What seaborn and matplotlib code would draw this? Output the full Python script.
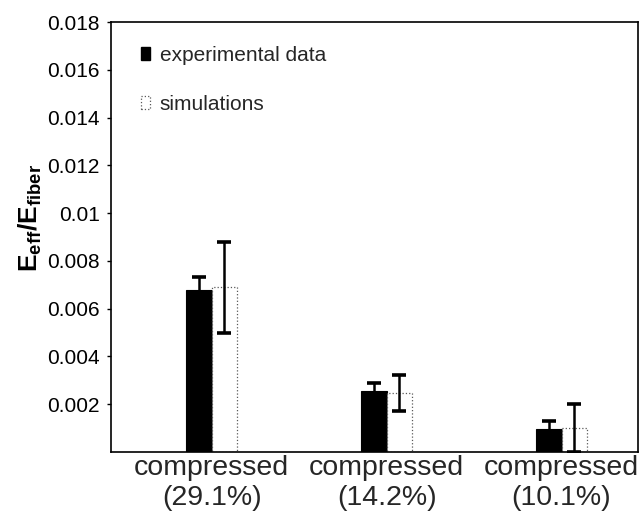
import numpy as np
import pandas as pd
import matplotlib
matplotlib.use("Agg")
import matplotlib.pyplot as plt
from matplotlib.patches import Patch
import seaborn as sns

# ---- data ----
categories = ["compressed\n(29.1%)", "compressed\n(14.2%)", "compressed\n(10.1%)"]
series = ["experimental data", "simulations"]
exp_values = [0.00678, 0.00257, 0.00095]
exp_errors = [0.00056, 0.00032, 0.00035]
sim_values = [0.00689, 0.00246, 0.00102]
sim_errors = [0.00190, 0.00076, 0.00101]
ytick_values = [0.002, 0.004, 0.006, 0.008, 0.010, 0.012, 0.014, 0.016, 0.018]
ytick_labels = ["0.002", "0.004", "0.006", "0.008", "0.01", "0.012", "0.014", "0.016", "0.018"]

df = pd.DataFrame({
    "category": categories * 2,
    "series": [series[0]] * 3 + [series[1]] * 3,
    "value": exp_values + sim_values,
    "err": exp_errors + sim_errors,
})

sns.set_theme(style="white")
plt.rcParams["font.family"] = ["Liberation Sans", "DejaVu Sans"]
plt.rcParams["mathtext.fontset"] = "custom"
plt.rcParams["mathtext.rm"] = "Liberation Sans:bold"
plt.rcParams["mathtext.it"] = "Liberation Sans:bold"
plt.rcParams["mathtext.bf"] = "Liberation Sans:bold"

fig = plt.figure(figsize=(6.43, 5.21), dpi=100)
ax = fig.add_axes([111 / 643, 1 - 452 / 521, 527 / 643, 430 / 521])

sns.barplot(data=df, x="category", y="value", hue="series", order=categories,
            hue_order=series, palette={series[0]: "black", series[1]: "white"},
            errorbar=None, width=0.29, gap=0, ax=ax, legend=False,
            saturation=1)

# style bars and add error bars from the bar geometry
patches = [p for p in ax.patches]
n = len(categories)
for i, p in enumerate(patches[:2 * n]):
    s = i // n
    c = i % n
    if s == 0:
        p.set_edgecolor("black")
        p.set_linewidth(0.8)
        val, err = exp_values[c], exp_errors[c]
    else:
        p.set_facecolor("white")
        p.set_edgecolor("0.35")
        p.set_linestyle(":")
        p.set_linewidth(0.9)
        val, err = sim_values[c], sim_errors[c]
    xc = p.get_x() + p.get_width() / 2
    ax.errorbar(xc, val, yerr=err, fmt="none", ecolor="black", elinewidth=1.8,
                capsize=5.2, capthick=2.6, zorder=5)

ax.set_xlim(-0.575, 2.437)
ax.set_ylim(0, 0.018)
ax.set_yticks(ytick_values)
ax.set_yticklabels(ytick_labels, fontsize=15)
ax.set_xticks(range(n))
ax.set_xticklabels(categories, fontsize=20.5, linespacing=1.2)
ax.tick_params(axis="x", length=0, pad=2)
ax.tick_params(axis="y", length=3, width=1, direction="out", pad=5, left=True, colors="black")
ax.set_xlabel("")
ax.set_ylabel(r"$\mathrm{E_{eff}/E_{fiber}}$", fontsize=19, color="black")
ax.yaxis.set_label_coords(-0.128, 0.545)

for sp in ax.spines.values():
    sp.set_visible(True)
    sp.set_color("black")
    sp.set_linewidth(1.2)

handles = [Patch(facecolor="black", edgecolor="black"),
           Patch(facecolor="white", edgecolor="0.35", linestyle=":", linewidth=0.9)]
ax.legend(handles, series, loc="upper left", bbox_to_anchor=(0.057, 0.945),
          frameon=False, fontsize=15, handlelength=0.45, handleheight=0.6,
          handletextpad=0.45, labelspacing=1.45, borderpad=0, borderaxespad=0)

fig.savefig("out.png", dpi=100, facecolor="white")
